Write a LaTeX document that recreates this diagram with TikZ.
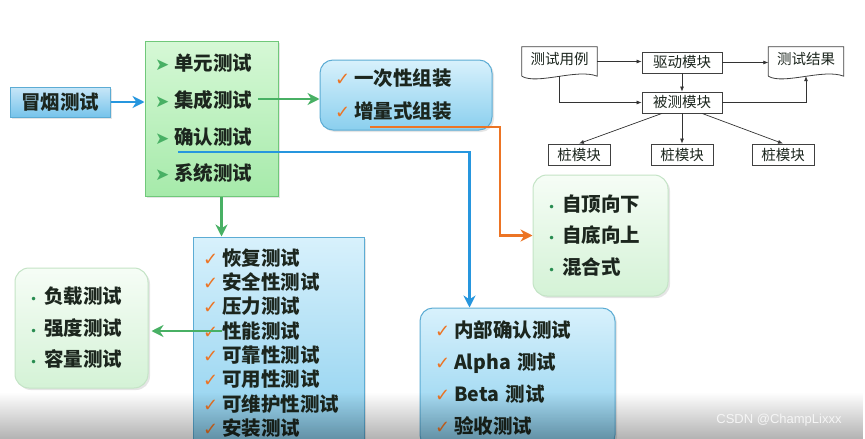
\documentclass[tikz,border=0pt]{standalone}
\usepackage{fontspec}
\setmainfont{Noto Sans CJK SC}
\newfontfamily\symfont{DejaVu Sans}
\newfontfamily\markfont{Liberation Sans}
\definecolor{ink}{RGB}{28, 38, 30}
\definecolor{grntop}{RGB}{214, 248, 214}
\definecolor{grnbot}{RGB}{166, 234, 170}
\definecolor{grnedge}{RGB}{112, 200, 122}
\definecolor{bluetop}{RGB}{216, 241, 252}
\definecolor{bluebot}{RGB}{138, 207, 238}
\definecolor{blueedge}{RGB}{92, 172, 212}
\definecolor{softtop}{RGB}{246, 253, 246}
\definecolor{softbot}{RGB}{212, 242, 214}
\definecolor{softedge}{RGB}{196, 228, 198}
\definecolor{linegreen}{RGB}{72, 176, 100}
\definecolor{lineblue}{RGB}{38, 150, 222}
\definecolor{lineorange}{RGB}{236, 116, 36}
\definecolor{dotgreen}{RGB}{40, 140, 80}
\usepackage{tikz}
\usetikzlibrary{arrows.meta, positioning, calc, shadows, fadings}
\newcommand\arrowmark{{\symfont\mdseries\fontsize{17}{17}\selectfont\color{linegreen}➤}\hspace{5pt}}
\newcommand\tickmark{{\symfont\mdseries\fontsize{18}{18}\selectfont\color{lineorange}✓}\hspace{4pt}}
\newcommand\dotmark{{\symfont\mdseries\fontsize{12}{12}\selectfont\color{dotgreen}•}\hspace{7pt}}

\begin{document}
\begin{tikzpicture}[x=1pt, y=-1pt,
        every node/.style={text=ink, align=left},
        listfont/.style={font=\bfseries\fontsize{19.5}{#1}\selectfont},
        greenlist/.style={rectangle, draw=grnedge, line width=1pt, top color=grntop, bottom color=grnbot, inner ysep=0pt, drop shadow={opacity=0.2, shadow xshift=2pt, shadow yshift=-2pt}},
        bluelist/.style={rectangle, draw=blueedge, line width=1pt, top color=bluetop, bottom color=bluebot, inner ysep=0pt, drop shadow={opacity=0.2, shadow xshift=2pt, shadow yshift=-2pt}},
        softgreen/.style={rectangle, rounded corners=14pt, draw=softedge, line width=1pt, top color=softtop, bottom color=softbot, inner ysep=0pt, drop shadow={opacity=0.2, shadow xshift=2pt, shadow yshift=-2pt}},
        softblue/.style={bluelist, rounded corners=13pt},
        flowbox/.style={rectangle, draw=black!75, line width=0.8pt, fill=white, font=\fontsize{14.5}{15}\selectfont, minimum width=80pt, minimum height=21pt, inner sep=0pt, align=center},
        docbox/.style={rectangle, minimum width=75pt, minimum height=29pt, inner sep=0pt, text depth=7pt, font=\fontsize{14.5}{15}\selectfont, align=center},
        flow/.style={-{Latex[length=5pt, width=4pt]}, line width=0.7pt, black!80},
        link/.style={-{Stealth[length=12pt, width=12pt]}, line width=2.4pt}
    ]
    \useasboundingbox[fill=white] (0,0) rectangle (865,439);

    \node[bluelist, minimum width=100pt, minimum height=30pt, top color=bluetop!70!lineblue!60, bottom color=bluebot!80!lineblue, listfont=20, align=center] (smoke) at (60,102) {冒烟测试};

    \node[greenlist, minimum width=133pt, minimum height=155pt, text width=113pt, inner xsep=10pt, listfont=36.7] (levels) at (211.5,118.5)
        {\arrowmark 单元测试\\ \arrowmark 集成测试\\ \arrowmark 确认测试\\ \arrowmark 系统测试};

    \node[softblue, minimum width=172pt, minimum height=70pt, text width=142pt, inner xsep=15pt, listfont=33] (assembly) at (406,95)
        {\tickmark 一次性组装\\ \tickmark 增量式组装};

    \node[softgreen, minimum width=135pt, minimum height=121pt, text width=105pt, inner xsep=15pt, listfont=31.5] (strategy) at (600.5,235.5)
        {\dotmark 自顶向下\\ \dotmark 自底向上\\ \dotmark 混合式};

    \node[softblue, minimum width=195pt, minimum height=140pt, text width=165pt, inner xsep=15pt, listfont=31.7] (accept) at (517.5,378)
        {\tickmark 内部确认测试\\ \tickmark Alpha 测试\\ \tickmark Beta 测试\\ \tickmark 验收测试};

    \node[bluelist, minimum width=171pt, minimum height=212pt, text width=151pt, inner xsep=10pt, listfont=24.3] (system) at (278.5,343)
        {\tickmark 恢复测试\\ \tickmark 安全性测试\\ \tickmark 压力测试\\ \tickmark 性能测试\\ \tickmark 可靠性测试\\ \tickmark 可用性测试\\ \tickmark 可维护性测试\\ \tickmark 安装测试};

    \node[softgreen, minimum width=133pt, minimum height=120pt, text width=103pt, inner xsep=15pt, listfont=31.5] (load) at (81.5,328)
        {\dotmark 负载测试\\ \dotmark 强度测试\\ \dotmark 容量测试};

    \coordinate (integ) at (258,99);
    \coordinate (incr) at (370,127);
    \coordinate (confirm) at (178,152);
    \coordinate (sysout) at ($(levels.south)+(10,0)$);
    \coordinate (perf) at (222,331);

    \draw[link, lineblue] (smoke.east) -- (smoke.east -| levels.west);
    \draw[link, linegreen] (integ) -- (integ -| assembly.west);
    \draw[link, lineorange] (incr) -- ++(130,0) |- (strategy.west);
    \draw[link, lineblue] (confirm) -| ($(accept.north west)+(50,0)$);
    \draw[link, linegreen] (sysout) -- (sysout |- system.north);
    \draw[link, linegreen, shorten >=3pt] (perf) -- (perf -| load.east);

    \node[docbox] (cases) at (559.5,61.5) {测试用例};
    \node[flowbox] (driver) at (682,62.5) {驱动模块};
    \node[docbox] (results) at (806,61.5) {测试结果};
    \node[flowbox] (target) at (682,102.5) {被测模块};
    \node[flowbox, minimum width=62pt] (stubA) at (579,154.5) {桩模块};
    \node[flowbox, minimum width=62pt] (stubB) at (682,154.5) {桩模块};
    \node[flowbox, minimum width=62pt] (stubC) at (783,154.5) {桩模块};

    \draw[black!75, line width=0.8pt] (cases.south west) -- (cases.north west) -- (cases.north east) -- (cases.south east)
        .. controls +(-20,-8) and +(15,9) .. (cases.south west);
    \draw[black!75, line width=0.8pt] (results.south west) -- (results.north west) -- (results.north east) -- (results.south east)
        .. controls +(-20,-8) and +(15,9) .. (results.south west);

    \draw[flow] (cases.east) -- (cases.east -| driver.west);
    \draw[flow] (driver.east) -- (driver.east -| results.west);
    \draw[flow] (driver) -- (target);
    \draw[flow] (cases.south) |- (target.west);
    \draw[flow] (target.east) -| (results.south);
    \draw[flow] ($(target.south)+(-20,0)$) -- (stubA.north);
    \draw[flow] (target.south) -- (stubB.north);
    \draw[flow] ($(target.south)+(20,0)$) -- (stubC.north);

    \fill[black, path fading=north, opacity=0.3] (0,392) rectangle (865,439);
    \node[font=\markfont\fontsize{13}{13}\selectfont, text=white!92!gray] (mark) at (779,420) {CSDN @ChampLixxx};
\end{tikzpicture}
\end{document}
